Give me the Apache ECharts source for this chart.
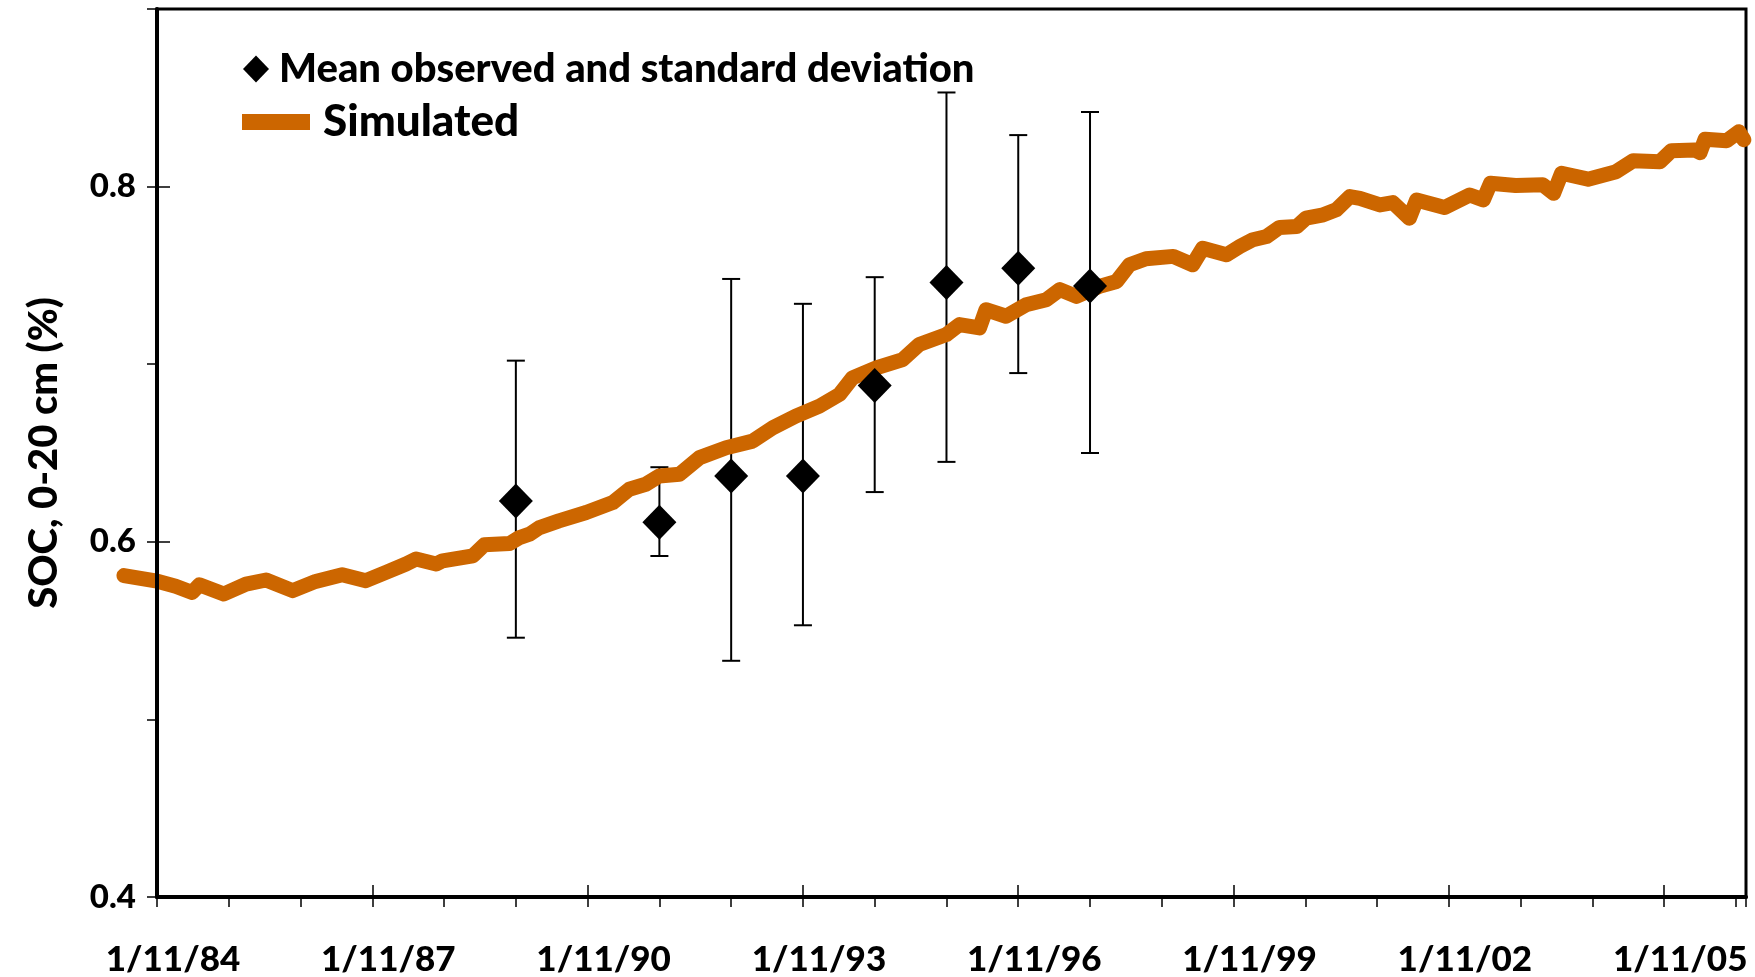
<!DOCTYPE html>
<html>
<head>
<meta charset="utf-8">
<script src="https://cdn.jsdelivr.net/npm/echarts@6/dist/echarts.min.js"></script>
<style>
html,body{margin:0;padding:0;background:#fff;}
#chart{width:1755px;height:977px;}
</style>
</head>
<body>
<div id="chart"></div>
<script>
// x values are years elapsed since 1/11/84
const xTickLabels = ['1/11/84','1/11/87','1/11/90','1/11/93','1/11/96','1/11/99','1/11/02','1/11/05'];
const yTickLabels = ['0.4','0.6','0.8'];

// Observed SOC (mean and standard deviation bounds)
const obsT    = [5, 7, 8, 9, 10, 11, 12, 13];
const obsMean = [0.623, 0.611, 0.637, 0.637, 0.688, 0.746, 0.754, 0.744];
const obsLow  = [0.546, 0.592, 0.533, 0.553, 0.628, 0.645, 0.695, 0.650];
const obsHigh = [0.702, 0.642, 0.748, 0.734, 0.749, 0.853, 0.829, 0.842];

// Simulated SOC (the simulation starts a little before the axis origin)
const simT = [-0.46,-0.02,0.26,0.49,0.59,0.93,1.24,1.52,1.89,2.21,2.58,2.91,3.19,3.47,3.61,3.89,3.98,4.40,4.56,4.91,5.05,5.19,5.33,5.60,5.98,6.35,6.58,6.81,7.00,7.28,7.56,7.93,8.30,8.58,8.90,9.23,9.51,9.69,10.02,10.39,10.62,11.00,11.18,11.46,11.55,11.83,12.11,12.39,12.58,12.81,13.13,13.37,13.55,13.78,14.16,14.43,14.57,14.90,15.09,15.27,15.46,15.64,15.88,16.01,16.25,16.43,16.62,16.76,17.04,17.22,17.45,17.55,17.94,18.29,18.48,18.58,18.93,19.31,19.46,19.57,19.94,20.33,20.57,20.94,21.10,21.43,21.50,21.57,21.87,22.04,22.11];
const simV = [0.581,0.578,0.575,0.5715,0.5758,0.5706,0.5762,0.5785,0.5725,0.5777,0.5815,0.5781,0.5828,0.5875,0.5903,0.5875,0.5893,0.5921,0.5983,0.5990,0.6024,0.6043,0.6080,0.6118,0.6165,0.6221,0.6296,0.6324,0.6371,0.6380,0.6474,0.6530,0.6567,0.6642,0.6708,0.6764,0.6830,0.6923,0.6979,0.7026,0.7111,0.7167,0.7223,0.7204,0.7307,0.7270,0.7335,0.7363,0.7420,0.7382,0.7438,0.7466,0.7560,0.7594,0.7607,0.7560,0.7653,0.7616,0.7663,0.7701,0.7719,0.7770,0.7775,0.7822,0.7841,0.7869,0.7944,0.7934,0.7897,0.7910,0.7822,0.7925,0.7882,0.7953,0.7925,0.8019,0.8006,0.8010,0.7962,0.8075,0.8042,0.8084,0.8146,0.8140,0.8202,0.8206,0.8191,0.8267,0.8258,0.8309,0.8264];

const X_MIN = 0, X_MAX = 22.14;
const SIM_MIN = -0.46;
const FONT = 'Lato, "Open Sans", sans-serif';
const WEIGHT = 900;
const ORANGE = '#CC6600';

const chart = echarts.init(document.getElementById('chart'), null, {renderer: 'canvas'});

const W = 1755;
const gridRect = {left: 157, right: 9, top: 9, bottom: 80};
// an extended grid with the same scale, so the simulated line may start left of the origin
const pxPerYear = (W - gridRect.left - gridRect.right) / (X_MAX - X_MIN);
const simGridRect = {left: gridRect.left + (SIM_MIN - X_MIN) * pxPerYear, right: gridRect.right, top: gridRect.top, bottom: gridRect.bottom};

const hiddenAxis = {axisLine: {show: false}, axisTick: {show: false}, axisLabel: {show: false}, splitLine: {show: false}};

const option = {
  backgroundColor: '#ffffff',
  animation: false,
  grid: [
    Object.assign({show: true, borderColor: '#000', borderWidth: 3, backgroundColor: 'transparent', containLabel: false}, gridRect),
    Object.assign({show: false, containLabel: false}, gridRect),
    Object.assign({show: false, containLabel: false}, simGridRect)
  ],
  legend: [
    {
      data: ['Mean observed and standard deviation'],
      left: 238, top: 44,
      icon: 'diamond', itemWidth: 26, itemHeight: 27,
      selectedMode: false,
      itemStyle: {opacity: 1},
      textStyle: {fontFamily: FONT, fontWeight: WEIGHT, fontSize: 40, lineHeight: 40, color: '#000', padding: [0,0,0,5]}
    },
    {
      data: ['Simulated'],
      left: 237, top: 94,
      icon: 'rect', itemWidth: 68, itemHeight: 16,
      selectedMode: false,
      textStyle: {fontFamily: FONT, fontWeight: WEIGHT, fontSize: 44, lineHeight: 46, color: '#000', padding: [0,0,0,8]}
    }
  ],
  xAxis: [
    {
      type: 'value', gridIndex: 0, min: X_MIN, max: X_MAX, interval: 1,
      z: 3,
      axisLine: {show: true, onZero: false, lineStyle: {color: '#000', width: 4}},
      axisTick: {show: true, inside: false, length: 10, lineStyle: {color: '#000', width: 1.5}},
      splitLine: {show: false},
      axisLabel: {
        show: true, margin: 45, color: '#000', fontFamily: FONT, fontWeight: WEIGHT, fontSize: 35,
        padding: [0, 0, 0, 32],
        formatter: function (v) {
          const r = Math.round(v);
          if (Math.abs(v - r) > 1e-6 || r % 3 !== 0) return '';
          return xTickLabels[r / 3] || '';
        }
      }
    },
    {
      type: 'value', gridIndex: 1, min: X_MIN, max: X_MAX, interval: 3,
      z: 3,
      axisLine: {show: false},
      axisTick: {show: true, inside: true, length: 12, lineStyle: {color: '#000', width: 1.5}},
      axisLabel: {show: false},
      splitLine: {show: false}
    },
    Object.assign({type: 'value', gridIndex: 2, min: SIM_MIN, max: X_MAX}, hiddenAxis)
  ],
  yAxis: [
    {
      type: 'value', gridIndex: 0, min: 0.4, max: 0.9, interval: 0.1,
      z: 3,
      name: 'SOC, 0-20 cm (%)',
      nameLocation: 'middle', nameGap: 93, nameRotate: 90,
      nameTextStyle: {fontFamily: FONT, fontWeight: WEIGHT, fontSize: 40, color: '#000'},
      axisLine: {show: true, onZero: false, lineStyle: {color: '#000', width: 4}},
      axisTick: {show: true, inside: false, length: 10, lineStyle: {color: '#000', width: 1.5}},
      splitLine: {show: false},
      axisLabel: {
        show: true, margin: 21, color: '#000', fontFamily: FONT, fontWeight: WEIGHT, fontSize: 33,
        formatter: function (v) {
          const s = v.toFixed(1);
          return yTickLabels.indexOf(s) >= 0 ? s : '';
        }
      }
    },
    {
      type: 'value', gridIndex: 1, min: 0.4, max: 0.9, interval: 0.2,
      z: 3,
      axisLine: {show: false},
      axisTick: {show: true, inside: true, length: 13, lineStyle: {color: '#000', width: 1.5}},
      axisLabel: {show: false},
      splitLine: {show: false}
    },
    Object.assign({type: 'value', gridIndex: 2, min: 0.4, max: 0.9}, hiddenAxis)
  ],
  series: [
    {
      name: 'errorbars',
      type: 'custom',
      xAxisIndex: 0, yAxisIndex: 0,
      z: 1,
      clip: false,
      data: obsT.map((t, i) => [t, obsLow[i], obsHigh[i]]),
      renderItem: function (params, api) {
        const lo = api.coord([api.value(0), api.value(1)]);
        const hi = api.coord([api.value(0), api.value(2)]);
        const half = 9;
        const style = {stroke: '#000', lineWidth: 2};
        return {
          type: 'group',
          children: [
            {type: 'line', shape: {x1: lo[0], y1: lo[1], x2: hi[0], y2: hi[1]}, style: style},
            {type: 'line', shape: {x1: lo[0] - half, y1: lo[1], x2: lo[0] + half, y2: lo[1]}, style: style},
            {type: 'line', shape: {x1: hi[0] - half, y1: hi[1], x2: hi[0] + half, y2: hi[1]}, style: style}
          ]
        };
      }
    },
    {
      name: 'Simulated',
      type: 'line',
      xAxisIndex: 2, yAxisIndex: 2,
      z: 2,
      clip: false,
      showSymbol: false,
      symbol: 'none',
      smooth: false,
      color: ORANGE,
      lineStyle: {color: ORANGE, width: 15, join: 'round', cap: 'round'},
      data: simT.map((t, i) => [t, simV[i]])
    },
    {
      name: 'Mean observed and standard deviation',
      type: 'scatter',
      xAxisIndex: 0, yAxisIndex: 0,
      z: 4,
      symbol: 'diamond',
      symbolSize: [34, 35],
      itemStyle: {color: '#000', opacity: 1},
      data: obsT.map((t, i) => [t, obsMean[i]])
    }
  ]
};

chart.setOption(option);
</script>
</body>
</html>
